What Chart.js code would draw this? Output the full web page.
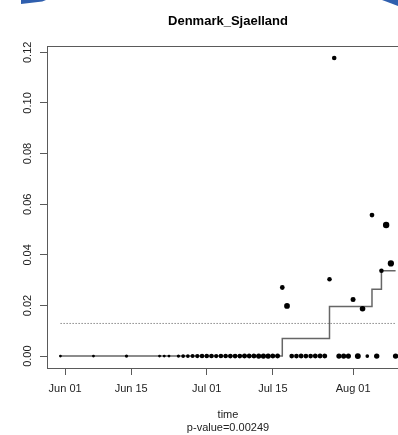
<!DOCTYPE html>
<html lang="en">
<head>
<meta charset="UTF-8" />
<title>Denmark_Sjaelland</title>
<script src="https://cdn.jsdelivr.net/npm/chart.js"></script>
<style>
  html, body { margin: 0; padding: 0; background: #fff; overflow: hidden; }
  #wrap { position: relative; width: 398px; height: 435px; overflow: hidden; }
  .corner { position: absolute; top: 0; background: #2f5fae; }
  #cornerL { left: 21px; width: 25px; height: 4px; clip-path: polygon(0 0, 100% 0, 85% 40%, 0 100%); }
  #cornerR { left: 382px; width: 16px; height: 6px; clip-path: polygon(0 0, 100% 0, 100% 100%, 30% 30%); }
</style>
</head>
<body>
<div id="wrap">
  <canvas id="chart" width="430" height="435"></canvas>
  <div class="corner" id="cornerL"></div>
  <div class="corner" id="cornerR"></div>
</div>
<script>
// daily samples: share of sequences and how many sequences that day
const sampleDates = [
  '2021-05-31','2021-06-07','2021-06-14','2021-06-21','2021-06-22','2021-06-23','2021-06-25','2021-06-26',
  '2021-06-27','2021-06-28','2021-06-29','2021-06-30','2021-07-01','2021-07-02','2021-07-03','2021-07-04',
  '2021-07-05','2021-07-06','2021-07-07','2021-07-08','2021-07-09','2021-07-10','2021-07-11','2021-07-12',
  '2021-07-13','2021-07-14','2021-07-15','2021-07-16','2021-07-17','2021-07-18','2021-07-19','2021-07-20',
  '2021-07-21','2021-07-22','2021-07-23','2021-07-24','2021-07-25','2021-07-26','2021-07-27','2021-07-28',
  '2021-07-29','2021-07-30','2021-07-31','2021-08-01','2021-08-02','2021-08-03','2021-08-04','2021-08-05',
  '2021-08-06','2021-08-07','2021-08-08','2021-08-09','2021-08-10'
];
const shares = [
  0, 0, 0, 0, 0, 0, 0, 0,
  0, 0, 0, 0, 0, 0, 0, 0,
  0, 0, 0, 0, 0, 0, 0, 0,
  0, 0, 0, 0, 0.0271, 0.0198, 0, 0,
  0, 0, 0, 0, 0, 0, 0.0304, 0.1178,
  0, 0, 0, 0.0224, 0, 0.0187, 0, 0.0557,
  0, 0.0337, 0.0518, 0.0366, 0
];
const seqCounts = [
  1, 1, 2, 1, 1, 1, 2, 3,
  3, 4, 5, 6, 6, 6, 5, 6,
  6, 7, 7, 7, 8, 8, 8, 9,
  9, 10, 8, 8, 7, 12, 7, 7,
  8, 7, 7, 8, 8, 8, 6, 6,
  9, 9, 9, 8, 13, 11, 3, 7,
  10, 6, 16, 15, 10
];

// fitted cumulative step curve
const stepDates = ['2021-05-31', '2021-07-17', '2021-07-27', '2021-08-05', '2021-08-07', '2021-08-10'];
const stepValues = [0, 0.0070, 0.0196, 0.0264, 0.0337, 0.0337];

// reference level (dotted)
const levelDates = ['2021-05-31', '2021-08-10'];
const levelValues = [0.0129, 0.0129];

const xTickDates = ['2021-06-01', '2021-06-15', '2021-07-01', '2021-07-15', '2021-08-01'];
const xTickLabels = ['Jun 01', 'Jun 15', 'Jul 01', 'Jul 15', 'Aug 01'];
const yTickValues = [0, 0.02, 0.04, 0.06, 0.08, 0.10, 0.12];
const yTickLabels = ['0.00', '0.02', '0.04', '0.06', '0.08', '0.10', '0.12'];

const regionName = 'Denmark_Sjaelland';
const pValue = '0.00249';

const FONT = "'Liberation Sans', Arial, Helvetica, sans-serif";
const AXIS = '#5a5a5a';
const DAY0 = Date.parse('2021-06-01');
const toDay = s => (Date.parse(s) - DAY0) / 86400000;

const points = sampleDates.map((d, i) => ({ x: toDay(d), y: shares[i] }));
const radii = seqCounts.map(n => 0.8 + 0.6 * Math.sqrt(n));
const steps = stepDates.map((d, i) => ({ x: toDay(d), y: stepValues[i] }));
const level = levelDates.map((d, i) => ({ x: toDay(d), y: levelValues[i] }));
const xTicks = xTickDates.map(toDay);

// plot frame + rotated y labels, R style
const framePlugin = {
  id: 'frame',
  afterDraw(chart) {
    const { ctx, chartArea: a, scales } = chart;
    ctx.save();
    ctx.strokeStyle = AXIS;
    ctx.lineWidth = 1;
    ctx.strokeRect(a.left + 0.5, a.top + 0.5, a.right - a.left, a.bottom - a.top);
    ctx.fillStyle = '#222';
    ctx.font = '11px ' + FONT;
    ctx.textAlign = 'center';
    ctx.textBaseline = 'middle';
    yTickValues.forEach((v, i) => {
      const y = scales.y.getPixelForValue(v);
      ctx.save();
      ctx.translate(28, y);
      ctx.rotate(-Math.PI / 2);
      ctx.fillText(yTickLabels[i], 0, 0);
      ctx.restore();
    });
    ctx.restore();
  }
};

new Chart(document.getElementById('chart'), {
  type: 'scatter',
  data: {
    datasets: [
      {
        data: points,
        pointRadius: radii,
        pointBackgroundColor: '#000',
        pointBorderWidth: 0,
        showLine: false
      },
      {
        data: steps,
        showLine: true,
        stepped: true,
        borderColor: '#666',
        borderWidth: 1.5,
        pointRadius: 0
      },
      {
        data: level,
        showLine: true,
        borderColor: '#8a8a8a',
        borderWidth: 1,
        borderDash: [1.5, 1.5],
        pointRadius: 0
      }
    ]
  },
  options: {
    responsive: false,
    animation: false,
    layout: { padding: { left: 0, right: 21, top: 0, bottom: 0 } },
    plugins: {
      legend: { display: false },
      tooltip: { enabled: false },
      title: {
        display: true,
        fullSize: false,
        text: regionName,
        color: '#000',
        font: { family: FONT, size: 13, weight: 'bold', lineHeight: 1.2 },
        padding: { top: 13.5, bottom: 16.9 }
      }
    },
    scales: {
      x: {
        type: 'linear',
        min: -3.84,
        max: 72.84,
        afterBuildTicks: s => { s.ticks = xTicks.map(v => ({ value: v })); },
        afterFit: s => { s.height = 67; },
        border: { display: false },
        grid: { drawOnChartArea: false, drawTicks: true, tickLength: 7, color: AXIS },
        ticks: {
          color: '#222',
          padding: 7,
          maxRotation: 0,
          font: { family: FONT, size: 11 },
          callback: v => xTickLabels[xTicks.indexOf(v)]
        },
        title: {
          display: true,
          text: ['time', 'p-value=' + pValue],
          color: '#222',
          font: { family: FONT, size: 11, lineHeight: '13.5px' },
          padding: { top: 0, bottom: 0 }
        }
      },
      y: {
        min: -0.0047,
        max: 0.1225,
        afterBuildTicks: s => { s.ticks = yTickValues.map(v => ({ value: v })); },
        afterFit: s => { s.width = 47; },
        border: { display: false },
        grid: { drawOnChartArea: false, drawTicks: true, tickLength: 7, color: AXIS },
        ticks: { display: false }
      }
    }
  },
  plugins: [framePlugin]
});
</script>
</body>
</html>
